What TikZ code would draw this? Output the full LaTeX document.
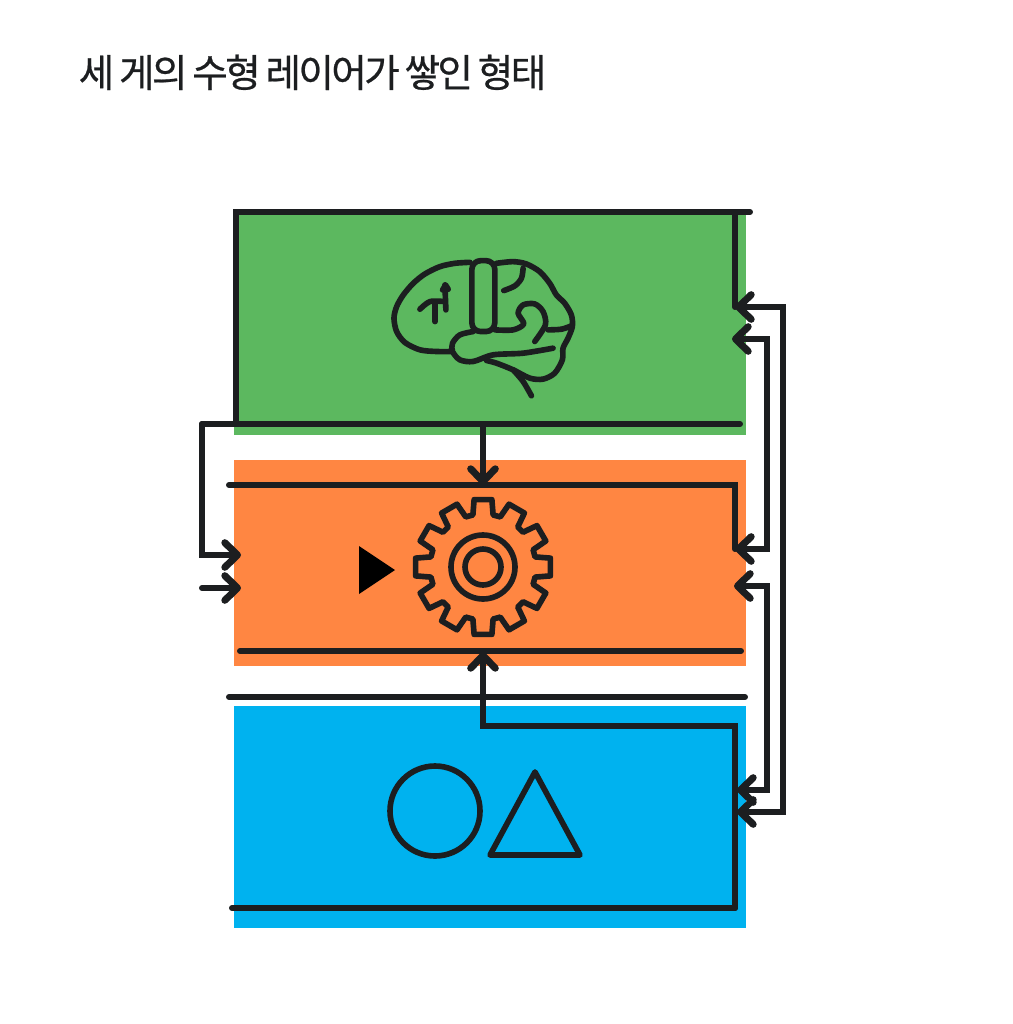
\documentclass[tikz,border=0pt]{standalone}
\usepackage{fontspec}
\usepackage{xcolor}
\usetikzlibrary{arrows.meta, calc}
\newfontfamily\cjk[FakeBold=0.6, LetterSpace=-7, WordSpace=0.8]{Noto Sans CJK KR}
\definecolor{layergreen}{HTML}{5CB85F}
\definecolor{layerorange}{HTML}{FF8642}
\definecolor{layerblue}{HTML}{00B2EF}
\definecolor{ink}{HTML}{1C1E20}

\begin{document}
\begin{tikzpicture}[x=0.01cm, y=-0.01cm, layer/.style={inner sep=0pt, minimum width=5.12cm}, wire/.style={line width=1.7pt, ink, line cap=round, line join=miter}, arrow/.style={wire, >={Straight Barb[round, length=3.6pt, width=7pt, line width=2pt]}}, icon/.style={line width=1.6pt, ink, line cap=round, line join=round}]
  \useasboundingbox (0,0) rectangle (1013,1024);
  \node[font=\cjk, anchor=base west, inner sep=0pt, text=ink] (title) at (78,87) {\fontsize{11pt}{13pt}\selectfont 세 게의 수형 레이어가 쌓인 형태};

  \node[layer, fill=layergreen, minimum height=2.23cm] (greenlayer) at (490,323.5) {};
  \node[layer, fill=layerorange, minimum height=2.06cm] (orangelayer) at (490,563) {};
  \node[layer, fill=layerblue, minimum height=2.22cm] (bluelayer) at (490,817) {};

  % brain
  \begin{scope}[shift={(380,250)}, x=0.00333cm, y=-0.00333cm]
    \draw[icon] plot[smooth] coordinates {(270,37) (225,40) (180,50) (135,72) (100,100) (70,135) (50,170) (42,205) (50,245) (75,278) (120,300) (170,305) (215,305)};
    \draw[icon, rounded corners=2.5pt] (276,245) rectangle (345,32);
    \draw[icon] plot[smooth] coordinates {(350,40) (400,35) (440,42) (480,65) (510,100) (530,135) (555,160) (575,195) (578,230) (565,265) (550,295) (548,330) (525,370) (490,388) (450,385) (400,360) (350,340) (320,332)};
    \draw[icon] plot[smooth] coordinates {(372,122) (405,108) (425,85) (430,55)};
    \draw[icon] plot[smooth] coordinates {(345,240) (400,240) (432,222) (415,190) (430,165) (465,162) (490,185) (497,225) (465,275)};
    \draw[icon] plot[smooth] coordinates {(505,240) (545,238) (575,228)};
    \draw[icon] plot[smooth] coordinates {(520,295) (430,310) (340,315) (280,335) (240,330) (218,305) (218,280) (240,255) (280,245)};
    \draw[icon] plot[smooth] coordinates {(400,360) (430,395) (455,438)};
    \draw[icon] plot[smooth] coordinates {(120,178) (150,155) (195,155)};
    \draw[icon] (165,215) -- (165,160);
    \draw[icon] (198,180) -- (195,105);
    \draw[icon] (188,120) -- (197,105) -- (205,118);
  \end{scope}

  % gear
  \begin{scope}[shift={(483,567)}]
    \draw[icon] (-11:53) \foreach \a in {0,30,...,330} { -- (\a-11:53) -- (\a-7.5:68) -- (\a+7.5:68) -- (\a+11:53) } -- cycle;
    \draw[icon] (0,0) circle (32);
    \draw[icon] (0,0) circle (18);
  \end{scope}
  \fill[black] (359,546) -- (395,570) -- (359,594) -- cycle;

  % shapes
  \draw[icon] (435,811) circle (45);
  \draw[icon] (535,772) -- (580,855) -- (490,855) -- cycle;

  % connectors
  \coordinate (greentop) at (236,212);
  \coordinate (greenend) at (750,212);
  \coordinate (greencorner) at (236,424);
  \coordinate (greenfoot) at (740,424);
  \coordinate (leftout) at (202,424);
  \coordinate (orangeinA) at (241,555);
  \coordinate (orangeinB) at (241,588);
  \coordinate (orangefree) at (202,588);
  \coordinate (drop) at (483,424);
  \coordinate (orangetop) at (483,485);
  \coordinate (orangestart) at (229,485);
  \coordinate (greeninA) at (735,307);
  \coordinate (greeninB) at (732,339);
  \coordinate (orangeinC) at (735,549);
  \coordinate (orangeinD) at (734,586);
  \coordinate (blueinA) at (737,790);
  \coordinate (blueinB) at (737,812);
  \coordinate (blueup) at (483,652);
  \coordinate (bluebend) at (483,726);
  \coordinate (bluefoot) at (735,908);
  \coordinate (bluestart) at (232,908);

  \draw[wire] (greenend) -- (greentop) -- (greencorner);
  \draw[wire] (leftout) -- (greenfoot);
  \draw[wire] (greentop -| greeninA) -- (greeninA);
  \draw[arrow, ->] (leftout) |- (orangeinA);
  \draw[arrow, ->] (orangefree) -- (orangeinB);
  \draw[arrow, ->] (drop) -- (orangetop);
  \draw[wire] (orangestart) -| (orangeinC);
  \draw[arrow, <->] (greeninB) -- (767,339) -- (767,549) -- (orangeinC);
  \draw[arrow, <->] (orangeinD) -- (767,586) -- (767,790) -- (blueinA);
  \draw[arrow, <->] (greeninA) -- (783,307) -- (783,812) -- (blueinB);
  \draw[wire] (240,651) -- (741,651);
  \draw[wire] (229,697) -- (745,697);
  \draw[arrow, ->] (bluefoot) -- (735,726) -- (bluebend) -- (blueup);
  \draw[wire] (bluefoot) -- (bluestart);
\end{tikzpicture}
\end{document}
